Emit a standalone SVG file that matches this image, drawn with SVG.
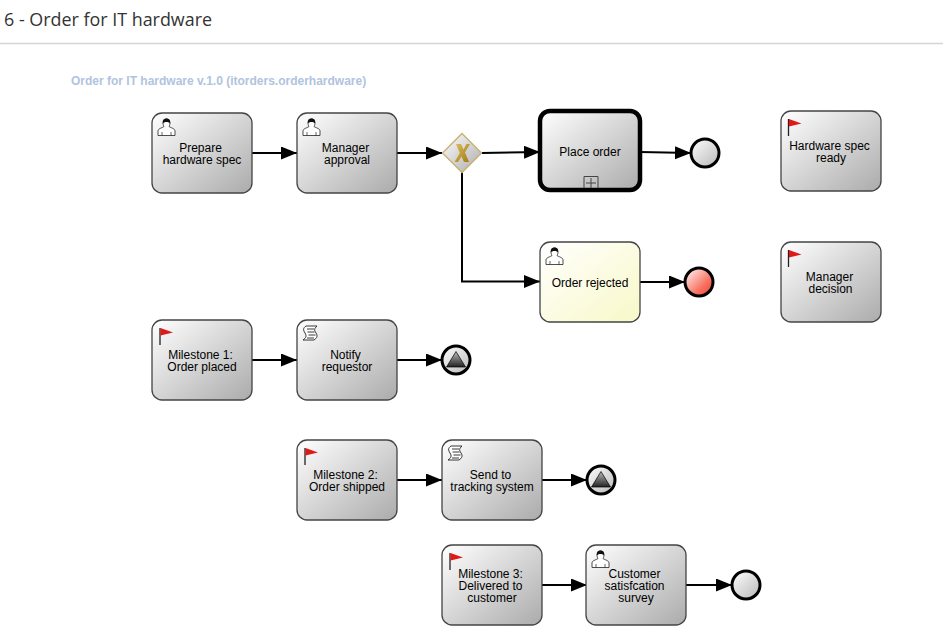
<svg xmlns="http://www.w3.org/2000/svg" xmlns:xlink="http://www.w3.org/1999/xlink" width="943" height="640" viewBox="0 0 943 640">
<style>
text{font-family:"Liberation Sans",Arial,sans-serif;font-size:12px;fill:#000;text-anchor:middle}
.title{font-family:"Open Sans",sans-serif;font-size:17.9px;fill:#333;text-anchor:start}
.sub{font-weight:bold;fill:#b0c4de;text-anchor:start}
.task{fill:url(#g);stroke:#444;stroke-width:1.300}
.flow{fill:none;stroke:#000;stroke-width:2;marker-end:url(#arrow)}
.ev{stroke:#000;stroke-width:3;fill:url(#ge)}
.shade{fill:url(#gs);stroke:#000;stroke-width:.7}
</style>
<defs>
<linearGradient id="g" x1="0" y1="0" x2="1" y2="1"><stop offset="0" stop-color="#fff"/><stop offset="1" stop-color="#ababab"/></linearGradient>
<linearGradient id="gy" x1="0" y1="0" x2="1" y2="1"><stop offset="0" stop-color="#fff"/><stop offset="1" stop-color="#f8f8c8"/></linearGradient>
<linearGradient id="ge" x1="0" y1="0" x2="1" y2="1"><stop offset="0" stop-color="#fff"/><stop offset="1" stop-color="#b8b8b8"/></linearGradient>
<linearGradient id="gr" x1="0" y1="0" x2="1" y2="1"><stop offset="0" stop-color="#fff"/><stop offset=".65" stop-color="#f87060"/><stop offset="1" stop-color="#f04030"/></linearGradient>
<linearGradient id="gs" x1="0" y1="0" x2="0" y2="1"><stop offset="0" stop-color="#bbb"/><stop offset="1" stop-color="#222"/></linearGradient>
<linearGradient id="gx" x1="0" y1="0" x2="1" y2="1"><stop offset="0" stop-color="#dcbc60"/><stop offset="1" stop-color="#a07c10"/></linearGradient>
<marker id="arrow" markerUnits="userSpaceOnUse" markerWidth="17" markerHeight="14" refX="16" refY="6.500" orient="auto"><path d="M0 0L16 6.500L0 13Z" fill="#000"/></marker>
<g id="user">
<path d="M1 17.500V13C1 10.500 5 10 7 8.500C5.500 6.500 5.500 1 9.500 1C13.500 1 13.500 6.500 12 8.500C14 10 18 10.500 18 13V17.500Z" fill="#fff" stroke="#222" stroke-width=".8"/>
<path d="M5.800 5.500C5.500 1 7.500 .5 9.500 .5C11.500 .5 13.500 1 13.200 5.500C12 3.500 7 3.500 5.800 5.500Z" fill="#111"/>
<path d="M5 17.500V14M14 17.500V14" stroke="#222" stroke-width=".7" fill="none"/>
</g>
<g id="flag"><path d="M1 1V18" stroke="#222" stroke-width="1.300"/><path d="M1.500 1L14 5.500L1.500 8.500Z" fill="#e01818"/></g>
<g id="script" fill="none" stroke="#222" stroke-width=".9"><path d="M4 1H15C12 4 12 5 14 8C16 11 15 13 12 15H1C4 13 5 11 3 8C1 5 1 3 4 1Z" fill="#fff"/><path d="M5 4H12M5.500 7H12.500M6.500 10H13.500M5 13H12"/></g>
</defs>
<rect width="943" height="640" fill="#fff"/>
<text class="title" x="4" y="26">6 - Order for IT hardware</text>
<path d="M0 43.500H943" stroke="#d5d5d5" stroke-width="1.300"/>
<text class="sub" x="71" y="85">Order for IT hardware v.1.0 (itorders.orderhardware)</text>
<g id="connectors">
<path class="flow" d="M252 153H297"/>
<path class="flow" d="M397 153H442"/>
<path class="flow" d="M482 153L540 152"/>
<path class="flow" d="M640 152L691 153"/>
<path class="flow" d="M462 172V281.500H540"/>
<path class="flow" d="M640 282H685"/>
<path class="flow" d="M252 360H297"/>
<path class="flow" d="M397 360H442"/>
<path class="flow" d="M397 480H442"/>
<path class="flow" d="M542 480H587"/>
<path class="flow" d="M542 585H587"/>
<path class="flow" d="M686 585H732"/>
</g>
<g id="prepare"><rect class="task" x="152" y="113" width="100" height="80" rx="10"/><use href="#user" x="157" y="118"/><text x="200.500" y="152">Prepare</text><text x="202" y="164">hardware spec</text></g>
<g id="manager"><rect class="task" x="297" y="113" width="100" height="80" rx="10"/><use href="#user" x="302" y="118"/><text x="345.500" y="152">Manager</text><text x="347" y="164">approval</text></g>
<g id="gateway"><path d="M462 133.500L481.500 153L462 172.500L442.500 153Z" fill="url(#g)" stroke="#c8b070" stroke-width="1.300"/><path d="M456 144H461L463.500 149.500L466.500 144H470L465 152.500L469 162H464L461.500 156.500L458 162H454.500L459.800 153Z" fill="url(#gx)"/></g>
<g id="placeorder"><rect class="task" x="540" y="111" width="100" height="79" rx="10" style="stroke:#000;stroke-width:4.500"/><text x="590" y="156">Place order</text><path d="M584 188V176.500H598V188M591 178V188M586 183H596" fill="none" stroke="#444" stroke-width="1"/></g>
<g id="end1"><circle class="ev" cx="705" cy="153" r="14"/></g>
<g id="rejected"><rect class="task" style="fill:url(#gy)" x="540" y="242" width="100" height="80" rx="10"/><use href="#user" x="545" y="247"/><text x="590" y="287">Order rejected</text></g>
<g id="end2"><circle class="ev" style="fill:url(#gr)" cx="699" cy="282" r="14"/></g>
<g id="hwready"><rect class="task" x="781" y="111" width="100" height="80" rx="10"/><use href="#flag" x="787.500" y="118"/><text x="829.500" y="150">Hardware spec</text><text x="831" y="162">ready</text></g>
<g id="mgrdecision"><rect class="task" x="781" y="242" width="100" height="80" rx="10"/><use href="#flag" x="787.500" y="249"/><text x="829.500" y="281">Manager</text><text x="830.500" y="293">decision</text></g>
<g id="m1"><rect class="task" x="152" y="320" width="100" height="80" rx="10"/><use href="#flag" x="159" y="327"/><text x="200.500" y="359">Milestone 1:</text><text x="202" y="371">Order placed</text></g>
<g id="notify"><rect class="task" x="297" y="320" width="100" height="80" rx="10"/><use href="#script" x="302" y="325"/><text x="345.500" y="359">Notify</text><text x="347" y="371">requestor</text></g>
<g id="esc1"><circle class="ev" cx="456" cy="360" r="14"/><path class="shade" d="M456 351.500L465.500 367H446.500Z"/></g>
<g id="m2"><rect class="task" x="297" y="440" width="100" height="80" rx="10"/><use href="#flag" x="304" y="447"/><text x="345.500" y="479">Milestone 2:</text><text x="347" y="491">Order shipped</text></g>
<g id="tracking"><rect class="task" x="442" y="440" width="100" height="80" rx="10"/><use href="#script" x="447" y="445"/><text x="490.500" y="479">Send to</text><text x="492" y="491">tracking system</text></g>
<g id="esc2"><circle class="ev" cx="601" cy="480" r="14"/><path class="shade" d="M601 471.500L610.500 487H591.500Z"/></g>
<g id="m3"><rect class="task" x="442" y="545" width="100" height="80" rx="10"/><use href="#flag" x="449" y="552"/><text x="490.500" y="578">Milestone 3:</text><text x="490.500" y="590">Delivered to</text><text x="492" y="602">customer</text></g>
<g id="survey"><rect class="task" x="586" y="545" width="100" height="80" rx="10"/><use href="#user" x="591" y="550"/><text x="634.500" y="578">Customer</text><text x="634.500" y="590">satisfcation</text><text x="636" y="602">survey</text></g>
<g id="end3"><circle class="ev" cx="746" cy="585" r="14"/></g>
</svg>
